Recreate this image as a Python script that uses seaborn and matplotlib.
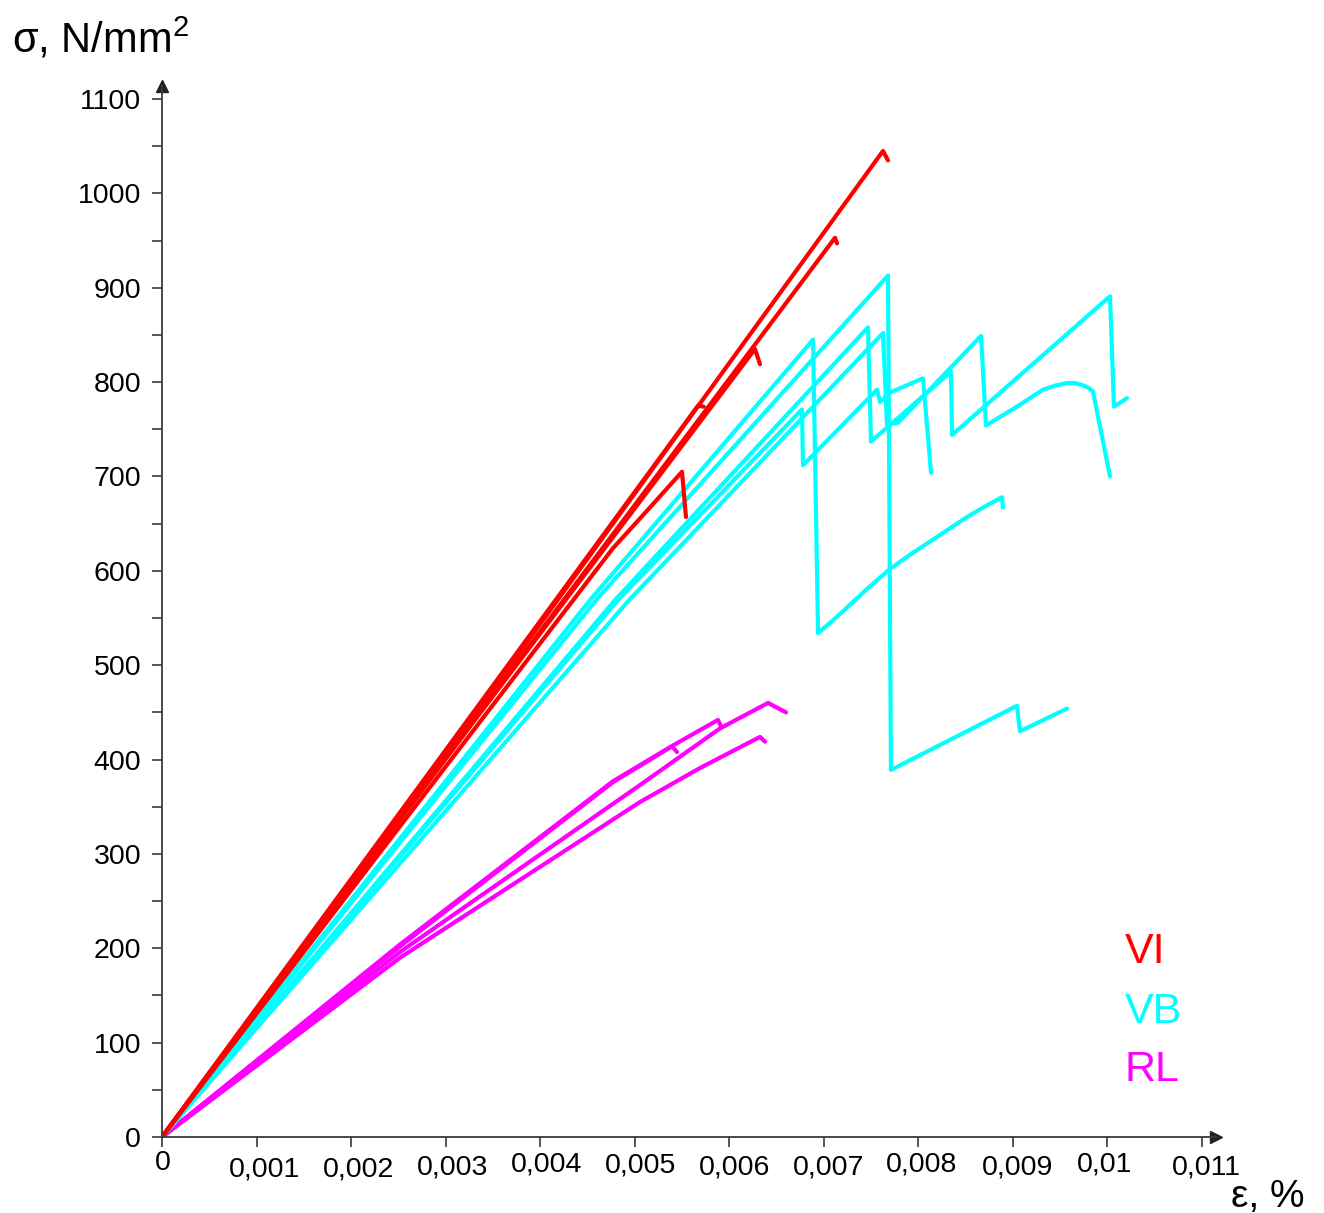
import numpy as np
import pandas as pd
import matplotlib
matplotlib.use("Agg")
import matplotlib.pyplot as plt
import seaborn as sns
from matplotlib.ticker import MultipleLocator

# ---------------- data (strain, stress) ----------------
# VI (red)
VI1_x = [0, 0.00380, 0.007626, 0.007679]
VI1_y = [0, 516, 1045, 1035]
VI2_x = [0, 0.003575, 0.007118, 0.007140]
VI2_y = [0, 479, 953, 947]
VI3_x = [0, 0.003363, 0.006272, 0.006325]
VI3_y = [0, 449, 835, 819]
VI4_x = [0, 0.004770, 0.005160, 0.005500, 0.005542]
VI4_y = [0, 624, 667, 705, 657]
VI5_x = [0, 0.003000, 0.005669, 0.005730]
VI5_y = [0, 410, 775, 774]

# VB (cyan)
VB1_x = [0, 0.004590, 0.007679, 0.007710, 0.009043, 0.009075, 0.009572]
VB1_y = [0, 569, 913, 389, 457, 430, 454]
VB2_x = [0, 0.004527, 0.006886, 0.006939, 0.007090, 0.007245, 0.007470, 0.007700,
         0.007910, 0.008123, 0.008514, 0.008700, 0.008885, 0.008895]
VB2_y = [0, 569, 845, 534, 547, 561, 582, 602, 617, 631, 657, 668, 678, 667]
VB3_x = [0, 0.004791, 0.007467, 0.007499, 0.008345, 0.008356, 0.010027, 0.010069, 0.010207]
VB3_y = [0, 569, 858, 737, 811, 744, 891, 774, 783]
VB4_x = [0, 0.004940, 0.007626, 0.007668, 0.007785, 0.008663, 0.008715, 0.009043, 0.009180,
         0.009318, 0.009456, 0.009572, 0.009657, 0.009731, 0.009800, 0.009847, 0.010027]
VB4_y = [0, 569, 852, 755, 757, 849, 754, 774, 783, 792, 796.5, 799, 799, 797, 794, 790, 700]
VB5_x = [0, 0.004823, 0.006769, 0.006780, 0.007563, 0.007594, 0.007700, 0.008049, 0.008134]
VB5_y = [0, 569, 771, 712, 792, 779, 789, 804, 704]

# RL (magenta)
RL1_x = [0, 0.002517, 0.005056, 0.005902, 0.006410, 0.006600]
RL1_y = [0, 196, 373, 433, 460, 450]
RL2_x = [0, 0.002517, 0.004770, 0.005405, 0.005881, 0.005913]
RL2_y = [0, 204, 377, 415, 442, 435]
RL3_x = [0, 0.002517, 0.004770, 0.005394, 0.005447]
RL3_y = [0, 202, 376, 414, 408]
RL4_x = [0, 0.002517, 0.005056, 0.005690, 0.006325, 0.006378]
RL4_y = [0, 190, 355, 391, 424, 419]

groups = ["VI", "VB", "RL"]
colors = {"VI": "#ff0000", "VB": "#00ffff", "RL": "#ff00ff"}
x_tick_labels = ["0", "0,001", "0,002", "0,003", "0,004", "0,005",
                 "0,006", "0,007", "0,008", "0,009", "0,01", "0,011"]

curves = [
    ("VI", "VI1", VI1_x, VI1_y), ("VI", "VI2", VI2_x, VI2_y), ("VI", "VI3", VI3_x, VI3_y),
    ("VI", "VI4", VI4_x, VI4_y), ("VI", "VI5", VI5_x, VI5_y),
    ("VB", "VB1", VB1_x, VB1_y), ("VB", "VB2", VB2_x, VB2_y), ("VB", "VB3", VB3_x, VB3_y),
    ("VB", "VB4", VB4_x, VB4_y), ("VB", "VB5", VB5_x, VB5_y),
    ("RL", "RL1", RL1_x, RL1_y), ("RL", "RL2", RL2_x, RL2_y), ("RL", "RL3", RL3_x, RL3_y),
    ("RL", "RL4", RL4_x, RL4_y),
]
rows = []
for g, cid, xs, ys in curves:
    for i, (xv, yv) in enumerate(zip(xs, ys)):
        rows.append({"group": g, "curve": cid, "order": i, "strain": xv, "stress": yv})
df = pd.DataFrame(rows)

# ---------------- style ----------------
sns.set_theme(style="white")
plt.rcParams["font.family"] = ["Liberation Sans", "DejaVu Sans"]
plt.rcParams["mathtext.fontset"] = "custom"
plt.rcParams["mathtext.rm"] = "Liberation Sans"
plt.rcParams["mathtext.default"] = "regular"

W, H = 1324, 1213
fig = plt.figure(figsize=(W / 100, H / 100), dpi=100)
fig.patch.set_facecolor("white")

x0_px, y0_px = 162, 1137
px_per_x = 94545.0
px_per_y = 0.9436
right_px, top_px = 1216, 86
ax = fig.add_axes([x0_px / W, (H - y0_px) / H, (right_px - x0_px) / W, (y0_px - top_px) / H])
ax.set_facecolor("white")

sns.lineplot(data=df, x="strain", y="stress", hue="group", units="curve",
             estimator=None, sort=False, palette=colors,
             hue_order=["RL", "VB", "VI"], linewidth=3.0, legend=False, ax=ax)

ax.set_xlim(0, (right_px - x0_px) / px_per_x)
ax.set_ylim(0, (y0_px - top_px) / px_per_y)
ax.set_xlabel("")
ax.set_ylabel("")

for s in ["top", "right"]:
    ax.spines[s].set_visible(False)
for s in ["left", "bottom"]:
    ax.spines[s].set_color("#3a3a3a")
    ax.spines[s].set_linewidth(1.3)

# arrows at axis ends
ax.plot(1, 0, marker=">", color="#222222", ms=8, transform=ax.get_yaxis_transform(), clip_on=False)
ax.plot(0, 1, marker="^", color="#222222", ms=8, transform=ax.get_xaxis_transform(), clip_on=False)

ax.yaxis.set_major_locator(MultipleLocator(100))
ax.yaxis.set_minor_locator(MultipleLocator(50))
ax.tick_params(axis="y", which="both", direction="out", length=7, width=1.2,
               color="#3a3a3a", left=True, pad=8, labelsize=20.5, labelcolor="black")
ax.set_xticks(np.arange(0, 0.0115, 0.001))
ax.tick_params(axis="x", which="major", direction="out", length=7, width=1.2,
               color="#3a3a3a", bottom=True, labelbottom=False)

# staggered x tick labels
dxs = [1, 7.5, 7, 7.4, 6.8, 6.3, 5.7, 5.2, 3.6, 5, -2.5, 4]
dys = [26, 32, 32, 30, 27.5, 29, 30, 30, 27.5, 30, 27.5, 30]
for i, lbl in enumerate(x_tick_labels):
    ax.annotate(lbl, xy=(i * 0.001, 0), xycoords=("data", "axes fraction"),
                xytext=(dxs[i], -dys[i]), textcoords="offset pixels",
                ha="center", va="center", fontsize=20.5, color="black", annotation_clip=False)

# axis titles
fig.text(12 / W, 1 - 53 / H, r"σ, N/mm$^{2}$", fontsize=30, ha="left", va="baseline", color="black")
fig.text(1231 / W, 1 - 1207 / H, "ε, %", fontsize=28, ha="left", va="baseline", color="black")

# group labels
for g, base in zip(groups, [963, 1023, 1081]):
    fig.text(1125 / W, 1 - base / H, g, fontsize=31, ha="left", va="baseline", color=colors[g])

fig.savefig("out.png", dpi=100, facecolor="white")
